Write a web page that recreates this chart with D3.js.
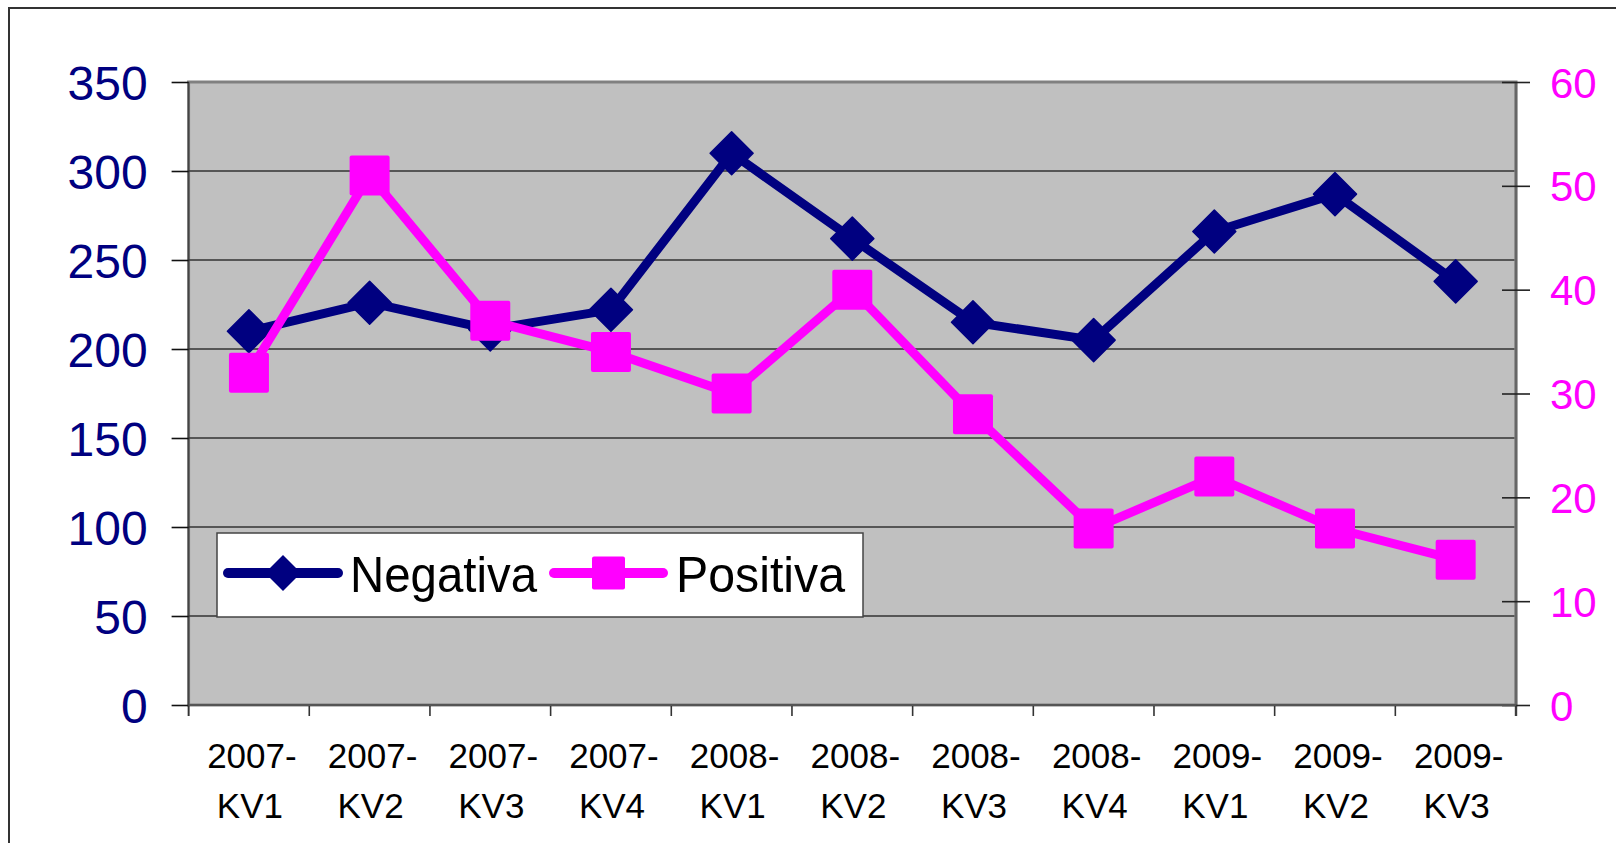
<!DOCTYPE html>
<html>
<head>
<meta charset="utf-8">
<script src="https://cdn.jsdelivr.net/npm/d3@7"></script>
<style>
  html, body { margin: 0; padding: 0; background: #fff; }
  svg { display: block; font-family: "Liberation Sans", Arial, sans-serif; }
</style>
</head>
<body>
<div id="chart"></div>
<script>
// data
const quarters = ["2007-KV1", "2007-KV2", "2007-KV3", "2007-KV4", "2008-KV1", "2008-KV2",
  "2008-KV3", "2008-KV4", "2009-KV1", "2009-KV2", "2009-KV3"];
const negativa = [210, 226, 211, 222, 310, 262, 215, 205, 266, 287, 238];
const positiva = [32, 51, 37, 34, 30, 40, 28, 17, 22, 17, 14];
const leftTicks = [0, 50, 100, 150, 200, 250, 300, 350];
const rightTicks = [0, 10, 20, 30, 40, 50, 60];

(function () {
  const W = 1616, H = 843;
  const plot = { left: 188.6, right: 1516, top: 82, bottom: 705 };
  const NAVY = "#000080";
  const PINK = "#FF00FF";

  const svg = d3.select("#chart").append("svg")
    .attr("width", W).attr("height", H)
    .attr("viewBox", `0 0 ${W} ${H}`);

  // outer frame (only top and left edges visible)
  svg.append("rect")
    .attr("x", 9).attr("y", 8)
    .attr("width", W).attr("height", H)
    .attr("fill", "#fff").attr("stroke", "#333").attr("stroke-width", 2);

  const x = d3.scaleBand().domain(quarters).range([plot.left, plot.right]).padding(0);
  const cx = (d) => x(d) + x.bandwidth() / 2;
  const yL = d3.scaleLinear().domain([0, 350]).range([plot.bottom, plot.top]);
  const yR = d3.scaleLinear().domain([0, 60]).range([plot.bottom, plot.top]);

  // plot area
  svg.append("rect")
    .attr("x", plot.left).attr("y", plot.top)
    .attr("width", plot.right - plot.left).attr("height", plot.bottom - plot.top)
    .attr("fill", "#C0C0C0").attr("stroke", "#808080").attr("stroke-width", 3);

  // gridlines
  svg.append("g").selectAll("line")
    .data(leftTicks.filter((d) => d > 0 && d < 350))
    .join("line")
    .attr("x1", plot.left).attr("x2", plot.right - 1.5)
    .attr("y1", (d) => yL(d)).attr("y2", (d) => yL(d))
    .attr("stroke", "#333").attr("stroke-width", 1.6);

  // left axis
  const left = svg.append("g").attr("transform", `translate(${plot.left},0)`)
    .call(d3.axisLeft(yL).tickValues(leftTicks).tickSize(17).tickPadding(24));
  left.select(".domain").attr("stroke", "#444").attr("stroke-width", 1.6)
    .attr("d", `M0,${plot.top}V${plot.bottom + 11}`);
  left.selectAll(".tick line").attr("stroke", "#111").attr("stroke-width", 1.6);
  left.selectAll(".tick text")
    .attr("fill", NAVY).attr("font-size", 48).attr("dy", "0.36em")
    .attr("font-family", "Liberation Sans, Arial, sans-serif");

  // right axis
  const right = svg.append("g").attr("transform", `translate(${plot.right},0)`)
    .call(d3.axisRight(yR).tickValues(rightTicks).tickSize(14).tickPadding(20));
  right.select(".domain").attr("stroke", "#666").attr("stroke-width", 2.5)
    .attr("d", `M0,${plot.top}V${plot.bottom + 11}`);
  right.selectAll(".tick line").attr("x1", -14).attr("stroke", "#222").attr("stroke-width", 1.6);
  right.selectAll(".tick text")
    .attr("fill", PINK).attr("font-size", 42).attr("dy", "0.36em")
    .attr("font-family", "Liberation Sans, Arial, sans-serif");

  // bottom axis: ticks at category boundaries
  const bounds = quarters.map((d) => x(d)).concat([plot.right]);
  svg.append("g").selectAll("line").data(bounds).join("line")
    .attr("x1", (d) => d).attr("x2", (d) => d)
    .attr("y1", plot.bottom).attr("y2", plot.bottom + 11)
    .attr("stroke", "#333").attr("stroke-width", 1.6);
  svg.append("line")
    .attr("x1", plot.left).attr("x2", plot.right)
    .attr("y1", plot.bottom).attr("y2", plot.bottom)
    .attr("stroke", "#555").attr("stroke-width", 2);

  const labels = svg.append("g").selectAll("text").data(quarters).join("text")
    .attr("text-anchor", "middle").attr("font-size", 35).attr("fill", "#000");
  labels.append("tspan").attr("x", (d) => cx(d) + 3).attr("y", 768)
    .text((d) => d.split("-")[0] + "-");
  labels.append("tspan").attr("x", (d) => cx(d) + 1).attr("y", 818)
    .text((d) => d.split("-")[1]);

  const diamond = (r) => `M0,${-r}L${r},0L0,${r}L${-r},0Z`;

  // Negativa (left axis)
  svg.append("path").datum(negativa)
    .attr("fill", "none").attr("stroke", NAVY).attr("stroke-width", 9)
    .attr("stroke-linejoin", "round")
    .attr("d", d3.line().x((d, i) => cx(quarters[i])).y((d) => yL(d)));
  svg.append("g").selectAll("path").data(negativa).join("path")
    .attr("transform", (d, i) => `translate(${cx(quarters[i])},${yL(d)})`)
    .attr("d", diamond(21.5))
    .attr("fill", NAVY).attr("stroke", NAVY).attr("stroke-width", 1.5)
    .attr("stroke-linejoin", "round");

  // Positiva (right axis)
  svg.append("path").datum(positiva)
    .attr("fill", "none").attr("stroke", PINK).attr("stroke-width", 9)
    .attr("stroke-linejoin", "round")
    .attr("d", d3.line().x((d, i) => cx(quarters[i])).y((d) => yR(d)));
  svg.append("g").selectAll("rect").data(positiva).join("rect")
    .attr("x", (d, i) => cx(quarters[i]) - 20).attr("y", (d) => yR(d) - 20)
    .attr("width", 40).attr("height", 40).attr("rx", 2)
    .attr("fill", PINK);

  // legend
  const legend = svg.append("g");
  legend.append("rect")
    .attr("x", 217).attr("y", 533).attr("width", 646).attr("height", 84)
    .attr("fill", "#fff").attr("stroke", "#444").attr("stroke-width", 1.5);

  const legendItems = [
    { label: "Negativa", color: NAVY, x0: 228, x1: 338, tx: 350, w: 187, marker: "diamond" },
    { label: "Positiva", color: PINK, x0: 554, x1: 663, tx: 676, w: 169, marker: "square" },
  ];
  const ly = 573;
  legendItems.forEach((d) => {
    legend.append("line")
      .attr("x1", d.x0).attr("x2", d.x1).attr("y1", ly).attr("y2", ly)
      .attr("stroke", d.color).attr("stroke-width", 10).attr("stroke-linecap", "round");
    const mx = (d.x0 + d.x1) / 2;
    if (d.marker === "diamond") {
      legend.append("path").attr("transform", `translate(${mx},${ly})`)
        .attr("d", diamond(18)).attr("fill", d.color);
    } else {
      legend.append("rect").attr("x", mx - 16.5).attr("y", ly - 16.5)
        .attr("width", 33).attr("height", 33).attr("rx", 2).attr("fill", d.color);
    }
    legend.append("text")
      .attr("x", d.tx).attr("y", 592)
      .attr("font-size", 50).attr("fill", "#000")
      .attr("textLength", d.w).attr("lengthAdjust", "spacingAndGlyphs")
      .text(d.label);
  });
})();
</script>
</body>
</html>
